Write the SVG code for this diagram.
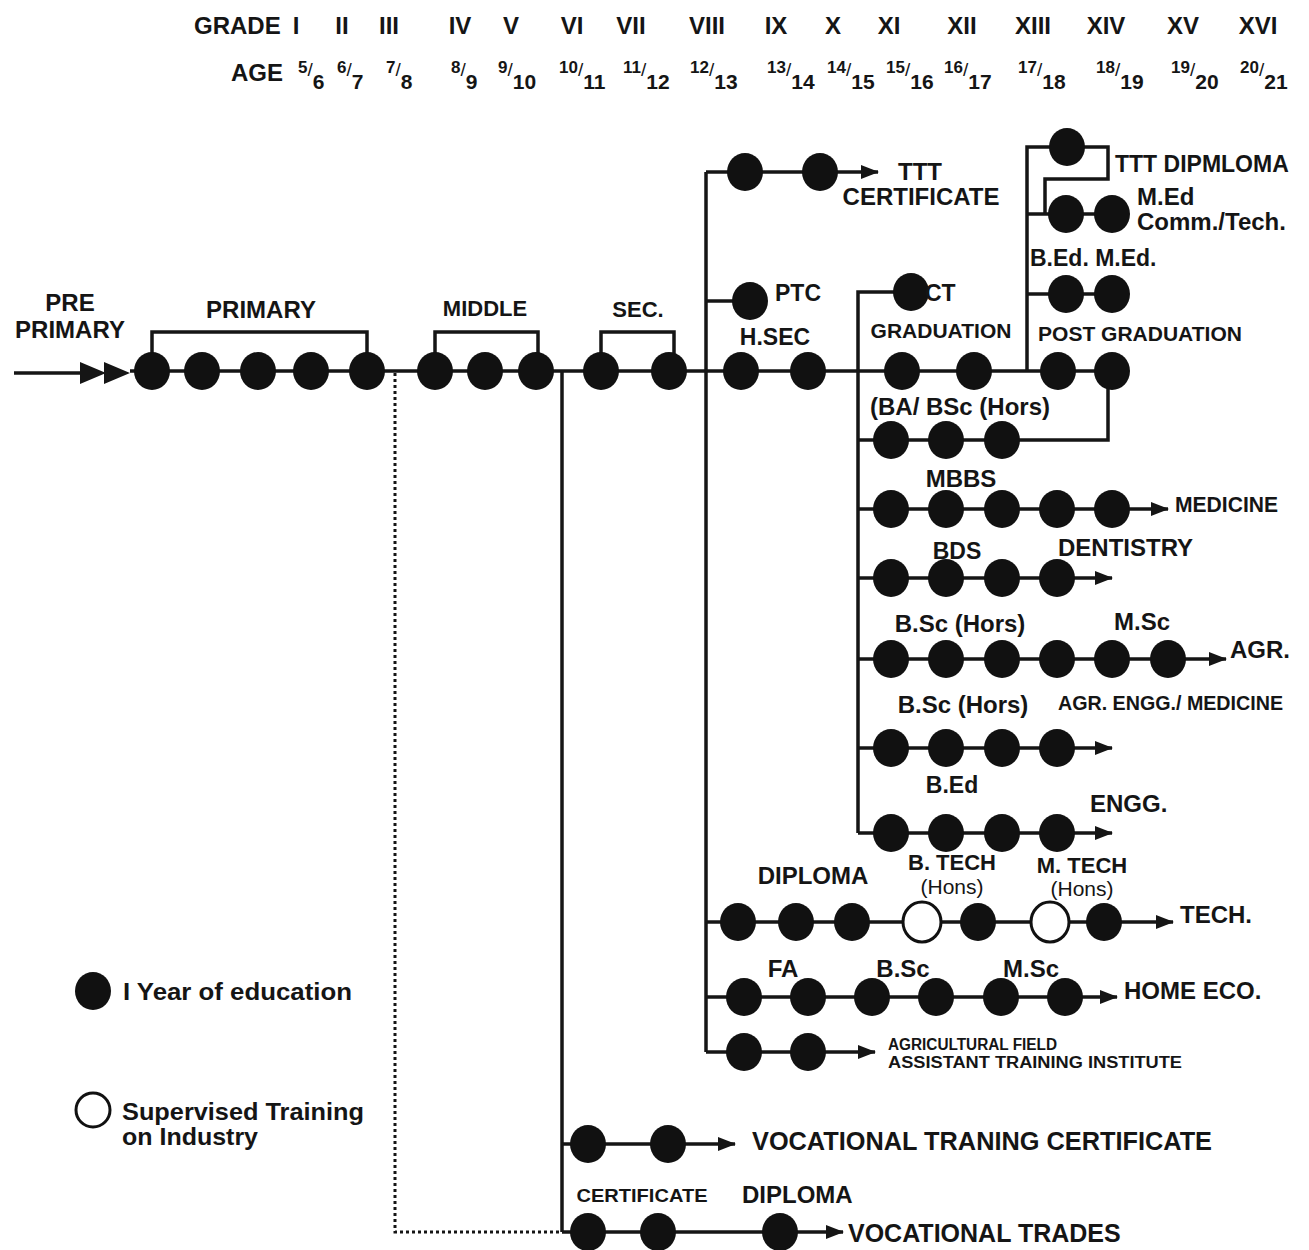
<svg xmlns="http://www.w3.org/2000/svg" width="1309" height="1250" viewBox="0 0 1309 1250">
<style>
.t{font-family:"Liberation Sans",Arial,sans-serif;font-weight:bold;fill:#151515;font-size:24px}
.m{text-anchor:middle}
.ln{stroke:#151515;stroke-width:3.5;fill:none}
.dot{stroke:#151515;stroke-width:3;fill:none;stroke-dasharray:3 3}
.f{fill:#111}
.o{fill:#fff;stroke:#111;stroke-width:3}
.num{font-size:17px}
.sl{font-size:19px;font-weight:normal}
.den{font-size:21px}
</style>
<defs>
<marker id="ah" viewBox="0 0 18 14" markerWidth="18" markerHeight="14" refX="17" refY="7" orient="auto" markerUnits="userSpaceOnUse">
<path d="M0,0 L18,7 L0,14 z" fill="#151515"/>
</marker>
</defs>
<rect width="1309" height="1250" fill="#fff"/>

<g id="header">
<text class="t" x="194" y="34" font-size="25">GRADE</text>
<g class="t m" font-size="26">
<text x="296" y="34">I</text><text x="342" y="34">II</text><text x="389" y="34">III</text><text x="460" y="34">IV</text><text x="511" y="34">V</text><text x="572" y="34">VI</text><text x="631" y="34">VII</text><text x="707" y="34">VIII</text><text x="776" y="34">IX</text><text x="833" y="34">X</text><text x="889" y="34">XI</text><text x="962" y="34">XII</text><text x="1033" y="34">XIII</text><text x="1106" y="34">XIV</text><text x="1183" y="34">XV</text><text x="1258" y="34">XVI</text>
</g>
<text class="t" x="231" y="81" font-size="26">AGE</text>
<g class="t">
<text x="298" y="73"><tspan class="num">5</tspan><tspan class="sl" dy="3">/</tspan><tspan class="den" dy="13">6</tspan></text>
<text x="337" y="73"><tspan class="num">6</tspan><tspan class="sl" dy="3">/</tspan><tspan class="den" dy="13">7</tspan></text>
<text x="386" y="73"><tspan class="num">7</tspan><tspan class="sl" dy="3">/</tspan><tspan class="den" dy="13">8</tspan></text>
<text x="451" y="73"><tspan class="num">8</tspan><tspan class="sl" dy="3">/</tspan><tspan class="den" dy="13">9</tspan></text>
<text x="498" y="73"><tspan class="num">9</tspan><tspan class="sl" dy="3">/</tspan><tspan class="den" dy="13">10</tspan></text>
<text x="559" y="73"><tspan class="num">10</tspan><tspan class="sl" dy="3">/</tspan><tspan class="den" dy="13">11</tspan></text>
<text x="623" y="73"><tspan class="num">11</tspan><tspan class="sl" dy="3">/</tspan><tspan class="den" dy="13">12</tspan></text>
<text x="690" y="73"><tspan class="num">12</tspan><tspan class="sl" dy="3">/</tspan><tspan class="den" dy="13">13</tspan></text>
<text x="767" y="73"><tspan class="num">13</tspan><tspan class="sl" dy="3">/</tspan><tspan class="den" dy="13">14</tspan></text>
<text x="827" y="73"><tspan class="num">14</tspan><tspan class="sl" dy="3">/</tspan><tspan class="den" dy="13">15</tspan></text>
<text x="886" y="73"><tspan class="num">15</tspan><tspan class="sl" dy="3">/</tspan><tspan class="den" dy="13">16</tspan></text>
<text x="944" y="73"><tspan class="num">16</tspan><tspan class="sl" dy="3">/</tspan><tspan class="den" dy="13">17</tspan></text>
<text x="1018" y="73"><tspan class="num">17</tspan><tspan class="sl" dy="3">/</tspan><tspan class="den" dy="13">18</tspan></text>
<text x="1096" y="73"><tspan class="num">18</tspan><tspan class="sl" dy="3">/</tspan><tspan class="den" dy="13">19</tspan></text>
<text x="1171" y="73"><tspan class="num">19</tspan><tspan class="sl" dy="3">/</tspan><tspan class="den" dy="13">20</tspan></text>
<text x="1240" y="73"><tspan class="num">20</tspan><tspan class="sl" dy="3">/</tspan><tspan class="den" dy="13">21</tspan></text>
</g>
</g>

<g id="connectors">
<path class="ln" d="M14,373 H100"/>
<path d="M80,362 L106,373 L80,384 z M104,362 L130,373 L104,384 z" fill="#151515"/>
<path class="ln" d="M130,371 H1108 V440 H858"/>
<path class="ln" d="M152,371 V332 H367 V371"/>
<path class="ln" d="M435,371 V332 H538 V371"/>
<path class="ln" d="M601,371 V332 H674 V371"/>
<path class="dot" d="M395,373 V1232 H562"/>
<path class="ln" d="M562,371 V1232"/>
<path class="ln" d="M562,1144 H735" marker-end="url(#ah)"/>
<path class="ln" d="M562,1232 H843" marker-end="url(#ah)"/>
<path class="ln" d="M706,172 V1052"/>
<path class="ln" d="M706,172 H878" marker-end="url(#ah)"/>
<path class="ln" d="M706,301 H750"/>
<path class="ln" d="M706,922 H1173" marker-end="url(#ah)"/>
<path class="ln" d="M706,997 H1117" marker-end="url(#ah)"/>
<path class="ln" d="M706,1052 H875" marker-end="url(#ah)"/>
<path class="ln" d="M911,292 H858 V833"/>
<path class="ln" d="M858,509 H1168" marker-end="url(#ah)"/>
<path class="ln" d="M858,578 H1112" marker-end="url(#ah)"/>
<path class="ln" d="M858,659 H1226" marker-end="url(#ah)"/>
<path class="ln" d="M858,748 H1112" marker-end="url(#ah)"/>
<path class="ln" d="M858,833 H1112" marker-end="url(#ah)"/>
<path class="ln" d="M1027,371 V147 H1108 V179 H1045 V214"/>
<path class="ln" d="M1027,214 H1112"/>
<path class="ln" d="M1027,294 H1112"/>
</g>

<g id="nodes">
<g id="primary"><ellipse class="f" cx="152" cy="371" rx="18" ry="19"/><ellipse class="f" cx="202" cy="371" rx="18" ry="19"/><ellipse class="f" cx="258" cy="371" rx="18" ry="19"/><ellipse class="f" cx="311" cy="371" rx="18" ry="19"/><ellipse class="f" cx="367" cy="371" rx="18" ry="19"/></g>
<g id="middle"><ellipse class="f" cx="435" cy="371" rx="18" ry="19"/><ellipse class="f" cx="485" cy="371" rx="18" ry="19"/><ellipse class="f" cx="536" cy="371" rx="18" ry="19"/></g>
<g id="sec"><ellipse class="f" cx="601" cy="371" rx="18" ry="19"/><ellipse class="f" cx="669" cy="371" rx="18" ry="19"/></g>
<g id="hsec"><ellipse class="f" cx="741" cy="371" rx="18" ry="19"/><ellipse class="f" cx="808" cy="371" rx="18" ry="19"/></g>
<g id="graduation"><ellipse class="f" cx="902" cy="371" rx="18" ry="19"/><ellipse class="f" cx="974" cy="371" rx="18" ry="19"/></g>
<g id="postgrad"><ellipse class="f" cx="1058" cy="371" rx="18" ry="19"/><ellipse class="f" cx="1112" cy="371" rx="18" ry="19"/></g>
<g id="ptc"><ellipse class="f" cx="750" cy="301" rx="18" ry="19"/></g>
<g id="ttt"><ellipse class="f" cx="745" cy="172" rx="18" ry="19"/><ellipse class="f" cx="820" cy="172" rx="18" ry="19"/></g>
<g id="ct"><ellipse class="f" cx="911" cy="292" rx="18" ry="19"/></g>
<g id="tttdip"><ellipse class="f" cx="1067" cy="147" rx="18" ry="19"/></g>
<g id="medcomm"><ellipse class="f" cx="1066" cy="214" rx="18" ry="19"/><ellipse class="f" cx="1112" cy="214" rx="18" ry="19"/></g>
<g id="bedmed"><ellipse class="f" cx="1066" cy="294" rx="18" ry="19"/><ellipse class="f" cx="1112" cy="294" rx="18" ry="19"/></g>
<g id="ba"><ellipse class="f" cx="891" cy="440" rx="18" ry="19"/><ellipse class="f" cx="946" cy="440" rx="18" ry="19"/><ellipse class="f" cx="1002" cy="440" rx="18" ry="19"/></g>
<g id="mbbs"><ellipse class="f" cx="891" cy="509" rx="18" ry="19"/><ellipse class="f" cx="946" cy="509" rx="18" ry="19"/><ellipse class="f" cx="1002" cy="509" rx="18" ry="19"/><ellipse class="f" cx="1057" cy="509" rx="18" ry="19"/><ellipse class="f" cx="1112" cy="509" rx="18" ry="19"/></g>
<g id="bds"><ellipse class="f" cx="891" cy="578" rx="18" ry="19"/><ellipse class="f" cx="946" cy="578" rx="18" ry="19"/><ellipse class="f" cx="1002" cy="578" rx="18" ry="19"/><ellipse class="f" cx="1057" cy="578" rx="18" ry="19"/></g>
<g id="agr"><ellipse class="f" cx="891" cy="659" rx="18" ry="19"/><ellipse class="f" cx="946" cy="659" rx="18" ry="19"/><ellipse class="f" cx="1002" cy="659" rx="18" ry="19"/><ellipse class="f" cx="1057" cy="659" rx="18" ry="19"/><ellipse class="f" cx="1112" cy="659" rx="18" ry="19"/><ellipse class="f" cx="1168" cy="659" rx="18" ry="19"/></g>
<g id="agrengg"><ellipse class="f" cx="891" cy="748" rx="18" ry="19"/><ellipse class="f" cx="946" cy="748" rx="18" ry="19"/><ellipse class="f" cx="1002" cy="748" rx="18" ry="19"/><ellipse class="f" cx="1057" cy="748" rx="18" ry="19"/></g>
<g id="engg"><ellipse class="f" cx="891" cy="833" rx="18" ry="19"/><ellipse class="f" cx="946" cy="833" rx="18" ry="19"/><ellipse class="f" cx="1002" cy="833" rx="18" ry="19"/><ellipse class="f" cx="1057" cy="833" rx="18" ry="19"/></g>
<g id="tech"><ellipse class="f" cx="738" cy="922" rx="18" ry="19"/><ellipse class="f" cx="796" cy="922" rx="18" ry="19"/><ellipse class="f" cx="852" cy="922" rx="18" ry="19"/><ellipse class="o" cx="922" cy="922" rx="19" ry="20"/><ellipse class="f" cx="978" cy="922" rx="18" ry="19"/><ellipse class="o" cx="1050" cy="922" rx="19" ry="20"/><ellipse class="f" cx="1104" cy="922" rx="18" ry="19"/></g>
<g id="homeeco"><ellipse class="f" cx="744" cy="997" rx="18" ry="19"/><ellipse class="f" cx="808" cy="997" rx="18" ry="19"/><ellipse class="f" cx="872" cy="997" rx="18" ry="19"/><ellipse class="f" cx="936" cy="997" rx="18" ry="19"/><ellipse class="f" cx="1001" cy="997" rx="18" ry="19"/><ellipse class="f" cx="1065" cy="997" rx="18" ry="19"/></g>
<g id="agrfield"><ellipse class="f" cx="744" cy="1052" rx="18" ry="19"/><ellipse class="f" cx="808" cy="1052" rx="18" ry="19"/></g>
<g id="vtc"><ellipse class="f" cx="588" cy="1144" rx="18" ry="19"/><ellipse class="f" cx="668" cy="1144" rx="18" ry="19"/></g>
<g id="vtrades"><ellipse class="f" cx="588" cy="1232" rx="18" ry="19"/><ellipse class="f" cx="658" cy="1232" rx="18" ry="19"/><ellipse class="f" cx="780" cy="1232" rx="18" ry="19"/></g>
<g id="legend"><ellipse class="f" cx="93" cy="991" rx="18" ry="19"/><ellipse class="o" cx="93" cy="1110" rx="17" ry="17"/>
<text class="t" x="123" y="1000" textLength="229" lengthAdjust="spacingAndGlyphs">I Year of education</text>
<text class="t" x="122" y="1120" textLength="242" lengthAdjust="spacingAndGlyphs">Supervised Training</text>
<text class="t" x="122" y="1145" textLength="136" lengthAdjust="spacingAndGlyphs">on Industry</text></g>
</g>

<g id="labels" class="t">
<text class="m" x="70" y="311">PRE</text>
<text class="m" x="70" y="338">PRIMARY</text>
<text class="m" x="261" y="318">PRIMARY</text>
<text class="m" x="485" y="316" font-size="22">MIDDLE</text>
<text class="m" x="638" y="317" font-size="22">SEC.</text>
<text class="m" x="775" y="345" font-size="23">H.SEC</text>
<text x="775" y="301" font-size="23">PTC</text>
<text class="m" x="920" y="180">TTT</text>
<text class="m" x="921" y="205">CERTIFICATE</text>
<text x="925" y="301" font-size="23">CT</text>
<text class="m" x="941" y="338" font-size="21">GRADUATION</text>
<text class="m" x="1140" y="341" font-size="21">POST GRADUATION</text>
<text x="1115" y="172" font-size="23">TTT DIPMLOMA</text>
<text x="1137" y="205">M.Ed</text>
<text x="1137" y="230">Comm./Tech.</text>
<text x="1030" y="266" font-size="23">B.Ed. M.Ed.</text>
<text x="870" y="415">(BA/ BSc (Hors)</text>
<text class="m" x="961" y="487">MBBS</text>
<text x="1175" y="512" font-size="22" textLength="103" lengthAdjust="spacingAndGlyphs">MEDICINE</text>
<text class="m" x="957" y="559" font-size="23">BDS</text>
<text x="1058" y="556">DENTISTRY</text>
<text class="m" x="960" y="632">B.Sc (Hors)</text>
<text class="m" x="1142" y="630">M.Sc</text>
<text x="1230" y="658">AGR.</text>
<text class="m" x="963" y="713">B.Sc (Hors)</text>
<text x="1058" y="710" font-size="21" textLength="225" lengthAdjust="spacingAndGlyphs">AGR. ENGG./ MEDICINE</text>
<text class="m" x="952" y="793" font-size="23">B.Ed</text>
<text x="1090" y="812">ENGG.</text>
<text class="m" x="813" y="884">DIPLOMA</text>
<text class="m" x="952" y="870" font-size="22">B. TECH</text>
<text class="m" x="952" y="894" font-size="21" font-weight="normal">(Hons)</text>
<text class="m" x="1082" y="873" font-size="22">M. TECH</text>
<text class="m" x="1082" y="896" font-size="21" font-weight="normal">(Hons)</text>
<text x="1180" y="923">TECH.</text>
<text class="m" x="783" y="977">FA</text>
<text class="m" x="903" y="977">B.Sc</text>
<text class="m" x="1031" y="977">M.Sc</text>
<text x="1124" y="999">HOME ECO.</text>
<text x="888" y="1050" font-size="16" textLength="169" lengthAdjust="spacingAndGlyphs">AGRICULTURAL FIELD</text>
<text x="888" y="1068" font-size="16" textLength="294" lengthAdjust="spacingAndGlyphs">ASSISTANT TRAINING INSTITUTE</text>
<text x="752" y="1150" font-size="25" textLength="460" lengthAdjust="spacingAndGlyphs">VOCATIONAL TRANING CERTIFICATE</text>
<text class="m" x="642" y="1202" font-size="19" textLength="131" lengthAdjust="spacingAndGlyphs">CERTIFICATE</text>
<text x="742" y="1203">DIPLOMA</text>
<text x="848" y="1242" font-size="25">VOCATIONAL TRADES</text>
</g>
</svg>
